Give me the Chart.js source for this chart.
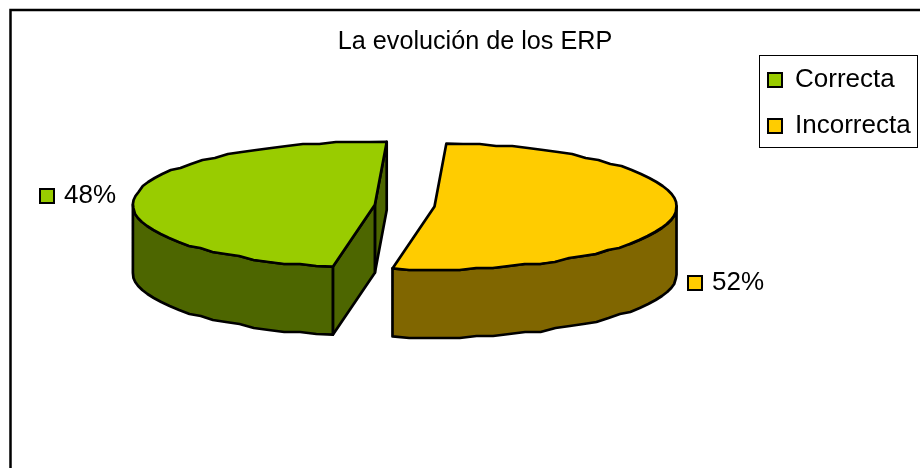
<!DOCTYPE html>
<html>
<head>
<meta charset="utf-8">
<title>La evolución de los ERP</title>
<script src="https://cdn.jsdelivr.net/npm/chart.js@4"></script>
<style>
  html, body { margin: 0; background: #fff; }
  canvas { display: block; }
</style>
</head>
<body>
<canvas id="pieChart" width="920" height="468"></canvas>
<script>
// Data for the chart
const categories = ['Correcta', 'Incorrecta'];
const values = [48, 52];
const topColors = ['#99cc00', '#ffcc00'];
const sideColors = ['#4d6600', '#806600'];

// Look of the fake 3D pie
const squash = 0.26;   // ellipse height / width
const depth = 68;      // wall height in px
const explode = 30;    // how far each slice is pulled out
const edge = 2.7;      // outline width

function geometry(arc, cy) {
    const p = arc.getProps(['x', 'y', 'startAngle', 'endAngle', 'outerRadius']);
    const ay = cy + (p.y - cy) * squash;
    return {
        start: p.startAngle,
        end: p.endAngle,
        apex: [p.x, ay],
        at: a => [p.x + Math.cos(a) * p.outerRadius, ay + Math.sin(a) * p.outerRadius * squash],
    };
}

// The rim in the reference is a coarse polygon, not a clean ellipse
function rim(g, from, to) {
    const pts = [];
    const n = Math.max(1, Math.round(Math.abs(to - from) / 0.07));
    for (let i = 0; i <= n; i++) {
        const [x, y] = g.at(from + (to - from) * i / n);
        pts.push([x, i === 0 || i === n ? y : Math.round(y / 2) * 2]);
    }
    return pts;
}

function poly(ctx, pts, fill) {
    ctx.beginPath();
    pts.forEach((pt, i) => (i ? ctx.lineTo(pt[0], pt[1]) : ctx.moveTo(pt[0], pt[1])));
    ctx.closePath();
    if (fill) {
        ctx.fillStyle = fill;
        ctx.fill();
    }
    ctx.stroke();
}

const down = pt => [pt[0], pt[1] + depth];
const centerY = chart => (chart.chartArea.top + chart.chartArea.bottom) / 2;

const pie3d = {
    id: 'pie3d',
    afterDatasetsUpdate(chart) {
        // Pull the slices apart along their middle angle
        chart.getDatasetMeta(0).data.forEach(arc => {
            const mid = (arc.startAngle + arc.endAngle) / 2;
            arc.x += Math.cos(mid) * explode;
            arc.y += Math.sin(mid) * explode;
        });
    },
    afterLayout(chart) {
        // Title sits over the whole picture, not over the pie
        const t = chart.titleBlock;
        const shift = 475 - (t.left + t.right) / 2;
        t.left += shift;
        t.right += shift;
        // Legend padding is wide to get the row gap, pull it back in
        chart.legend.left = 748;
        chart.legend.top = 47;
    },
    beforeDraw(chart) {
        const ctx = chart.ctx;
        // Chart frame runs off the right and bottom of the picture
        ctx.save();
        ctx.strokeStyle = '#000';
        ctx.lineWidth = 2.5;
        ctx.strokeRect(10.5, 10, 1000, 1000);
        // Legend box
        ctx.lineWidth = 1;
        ctx.strokeRect(759.5, 55.5, 158, 92);
        ctx.restore();
    },
    beforeDatasetsDraw(chart) {
        const ctx = chart.ctx;
        const cy = centerY(chart);
        ctx.save();
        ctx.strokeStyle = '#000';
        ctx.lineWidth = edge;
        ctx.lineJoin = 'round';
        chart.getDatasetMeta(0).data.forEach((arc, i) => {
            const g = geometry(arc, cy);
            // Cut faces that look towards the viewer
            const faces = [];
            if (Math.sin(g.end + Math.PI / 2) > 0) faces.push(g.end);
            if (Math.sin(g.start - Math.PI / 2) > 0) faces.push(g.start);
            faces.forEach(a => {
                const p = g.at(a);
                poly(ctx, [g.apex, p, down(p), down(g.apex)], sideColors[i]);
            });
            // Outer wall, only the front half of the ellipse
            for (let k = -1; k <= 1; k++) {
                const from = Math.max(g.start, k * 2 * Math.PI);
                const to = Math.min(g.end, k * 2 * Math.PI + Math.PI);
                if (to > from) {
                    const pts = rim(g, from, to);
                    poly(ctx, pts.concat(pts.slice().reverse().map(down)), sideColors[i]);
                }
            }
        });
        ctx.restore();
        // Flatten the library's own arcs into ellipses
        ctx.save();
        ctx.translate(0, cy);
        ctx.scale(1, squash);
        ctx.translate(0, -cy);
    },
    afterDatasetsDraw(chart) {
        const ctx = chart.ctx;
        const cy = centerY(chart);
        ctx.restore();
        ctx.save();
        ctx.strokeStyle = '#000';
        ctx.lineWidth = edge;
        ctx.lineJoin = 'round';
        chart.getDatasetMeta(0).data.forEach(arc => {
            const g = geometry(arc, cy);
            poly(ctx, [g.apex].concat(rim(g, g.start, g.end)));
        });
        ctx.restore();
    },
    afterDraw(chart) {
        // Percent labels with a small colour key
        const ctx = chart.ctx;
        const total = values.reduce((a, b) => a + b, 0);
        const spots = [[39, 188], [687, 275]];
        ctx.save();
        ctx.font = '26px "Liberation Sans"';
        ctx.textBaseline = 'middle';
        values.forEach((v, i) => {
            const [x, y] = spots[i];
            ctx.fillStyle = topColors[i];
            ctx.strokeStyle = '#000';
            ctx.lineWidth = 2;
            ctx.fillRect(x + 1, y + 1, 14, 14);
            ctx.strokeRect(x + 1, y + 1, 14, 14);
            ctx.fillStyle = '#000';
            ctx.fillText(Math.round(v / total * 100) + '%', x + 25, y + 8);
        });
        ctx.restore();
    },
};

// Chart configuration
const config = {
    type: 'pie',
    data: {
        labels: categories,
        datasets: [{
            data: values,
            backgroundColor: topColors,
            borderWidth: 0,
            clip: false,
        }],
    },
    options: {
        responsive: false,
        animation: false,
        rotation: 190,
        radius: 242,
        layout: { padding: { left: 65, right: 3, top: 10, bottom: 111 } },
        plugins: {
            tooltip: { enabled: false },
            title: {
                display: true,
                text: 'La evolución de los ERP',
                color: '#000',
                font: { family: '"Liberation Sans"', size: 25.2, weight: 'normal', lineHeight: 1 },
                padding: { top: 19, bottom: 0 },
            },
            legend: {
                position: 'right',
                align: 'start',
                fullSize: false,
                labels: {
                    color: '#000',
                    boxWidth: 14,
                    boxHeight: 14,
                    padding: 20,
                    font: { family: '"Liberation Sans"', size: 26 },
                    generateLabels(chart) {
                        return categories.map((text, i) => ({
                            text,
                            index: i,
                            fillStyle: topColors[i],
                            strokeStyle: '#000',
                            lineWidth: 2,
                            fontColor: '#000',
                        }));
                    },
                },
            },
        },
    },
    plugins: [pie3d],
};

// Create the chart
const pieChart = new Chart(document.getElementById('pieChart').getContext('2d'), config);
</script>
</body>
</html>
